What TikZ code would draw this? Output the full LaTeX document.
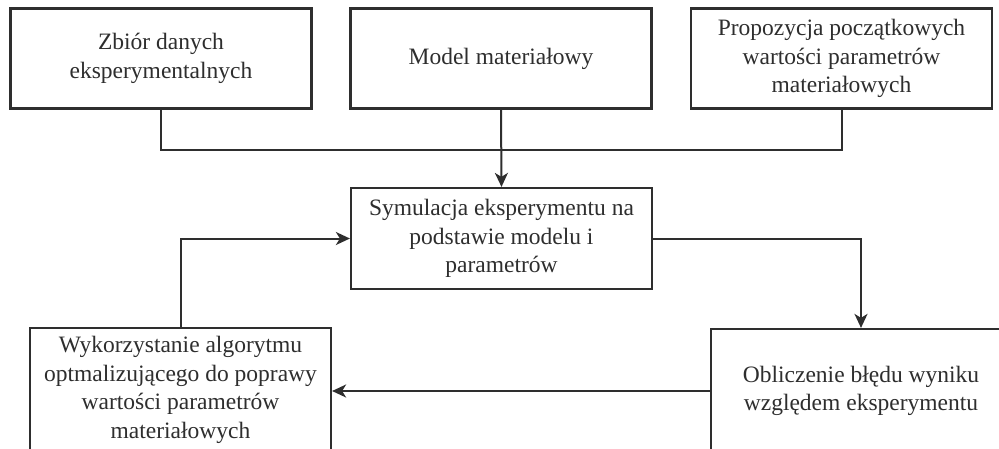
\documentclass[tikz,border=0pt]{standalone}
\usepackage{fontspec}
\setmainfont{Liberation Serif}
\usetikzlibrary{arrows.meta}
\definecolor{ink}{HTML}{2E2E2E}
\begin{document}
\begin{tikzpicture}[x=1pt,y=-1pt,
  box/.style={draw=ink,line width=2.2pt,fill=white,text=ink,align=center,
    minimum width=301pt,minimum height=100pt,inner sep=0pt,
    font=\fontsize{23.5}{28.5}\selectfont},
  conn/.style={draw=ink,line width=2pt},
  arr/.style={conn,-{Stealth[length=14pt,width=13pt,inset=4pt]}}]
\fill[white] (0,0) rectangle (999,448);
\useasboundingbox (0,0) rectangle (999,448);
\clip (0,0) rectangle (999,448);
\node[box] (b1) at (161,58.5) {Zbiór danych\\eksperymentalnych};
\node[box] (b2) at (501,58.5) {Model materiałowy};
\node[box] (b3) at (841.5,58.5) {Propozycja początkowych\\wartości parametrów\\materiałowych};
\node[box,minimum height=101pt] (c) at (501.5,238.5) {Symulacja eksperymentu na\\podstawie modelu i\\parametrów};
\node[box,minimum height=124pt] (b4) at (180.5,390) {Wykorzystanie algorytmu\\optmalizującego do poprawy\\wartości parametrów\\materiałowych};
\node[box,minimum width=300pt,minimum height=124pt] (b5) at (861,391) {Obliczenie błędu wyniku\\względem eksperymentu};
\coordinate (j) at (161,150);
\draw[conn] (b1.south) -- (j) -| (b3.south);
\draw[arr] (b2.south) -- (c.north);
\draw[arr] (b4.north) |- (c.west);
\draw[arr] (c.east) -| (b5.north);
\draw[arr] (b5.west) -- (b4.east |- b5.west);
\end{tikzpicture}
\end{document}
